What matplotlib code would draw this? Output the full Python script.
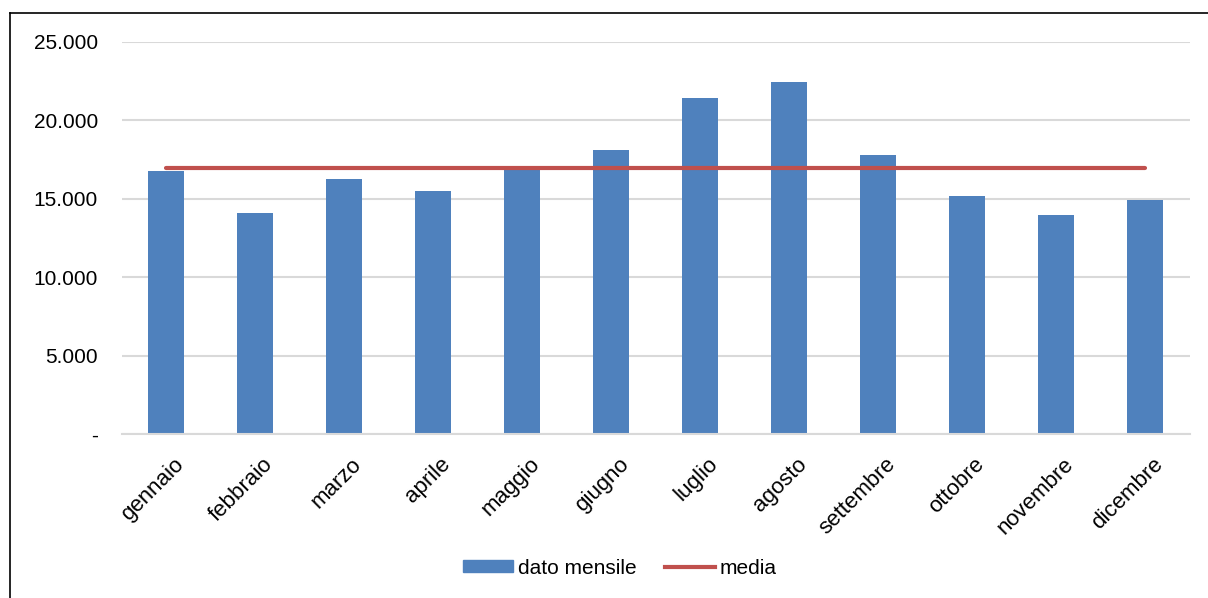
import matplotlib
matplotlib.use("Agg")
import matplotlib.pyplot as plt
import matplotlib.transforms as mtransforms
from matplotlib.ticker import FuncFormatter
from matplotlib.lines import Line2D

months = ["gennaio", "febbraio", "marzo", "aprile", "maggio", "giugno",
          "luglio", "agosto", "settembre", "ottobre", "novembre", "dicembre"]
monthly = [16790, 14110, 16240, 15500, 16950, 18090, 21450, 22430, 17770, 15160, 13950, 14920]
media_value = 16950
y_ticks = [0, 5000, 10000, 15000, 20000, 25000]

plt.rcParams['font.family'] = ['Liberation Sans', 'DejaVu Sans']

W, H = 1208, 598
fig = plt.figure(figsize=(W / 100, H / 100), dpi=100)
ax = fig.add_axes([121.5 / W, 1 - 434 / H, (1189.5 - 121.5) / W, (434 - 42) / H])

x = list(range(len(months)))
ax.bar(x, monthly, width=0.4, color="#4F81BD", zorder=2, label="dato mensile")
ax.plot([x[0], x[-1]], [media_value, media_value], color="#C0504D", lw=3, zorder=3,
        solid_capstyle="round", label="media")

ax.set_xlim(-0.5, len(months) - 0.5)
ax.set_ylim(0, 25000)
ax.set_yticks(y_ticks)


def fmt(v, pos):
    if v == 0:
        return "-"
    return f"{int(v):,}".replace(",", ".")


ax.yaxis.set_major_formatter(FuncFormatter(fmt))
ax.grid(axis="y", color="#D9D9D9", lw=1.5, zorder=0)
ax.set_axisbelow(True)
for s in ["top", "right", "left"]:
    ax.spines[s].set_visible(False)
ax.spines["bottom"].set_color("#D9D9D9")
ax.spines["bottom"].set_linewidth(1.5)
ax.tick_params(axis="both", length=0, labelsize=15, colors="#000000")
ax.tick_params(axis="y", pad=17)

ax.set_xticks(x)
ax.set_xticklabels(months, rotation=45, ha="right", va="top", fontsize=16)
offset = mtransforms.ScaledTranslation(22 / 100, -15 / 100, fig.dpi_scale_trans)
for lab in ax.get_xticklabels():
    lab.set_transform(lab.get_transform() + offset)

handles = [plt.Rectangle((0, 0), 1, 1, color="#4F81BD"),
           Line2D([0], [0], color="#C0504D", lw=3)]
fig.legend(handles, ["dato mensile", "media"], loc="center",
           bbox_to_anchor=(620 / W, 1 - 568 / H), ncol=2, frameon=False,
           fontsize=15, handlelength=2.4, handleheight=0.5, handletextpad=0.2,
           columnspacing=1.4)

# outer border (partially cropped like the reference)
fig.add_artist(Line2D([10 / W, 10 / W], [0, 1 - 13 / H], transform=fig.transFigure,
                      color="black", lw=1.2))
fig.add_artist(Line2D([10 / W, 1], [1 - 13 / H, 1 - 13 / H], transform=fig.transFigure,
                      color="black", lw=1.2))

fig.savefig("out.png", dpi=100)
